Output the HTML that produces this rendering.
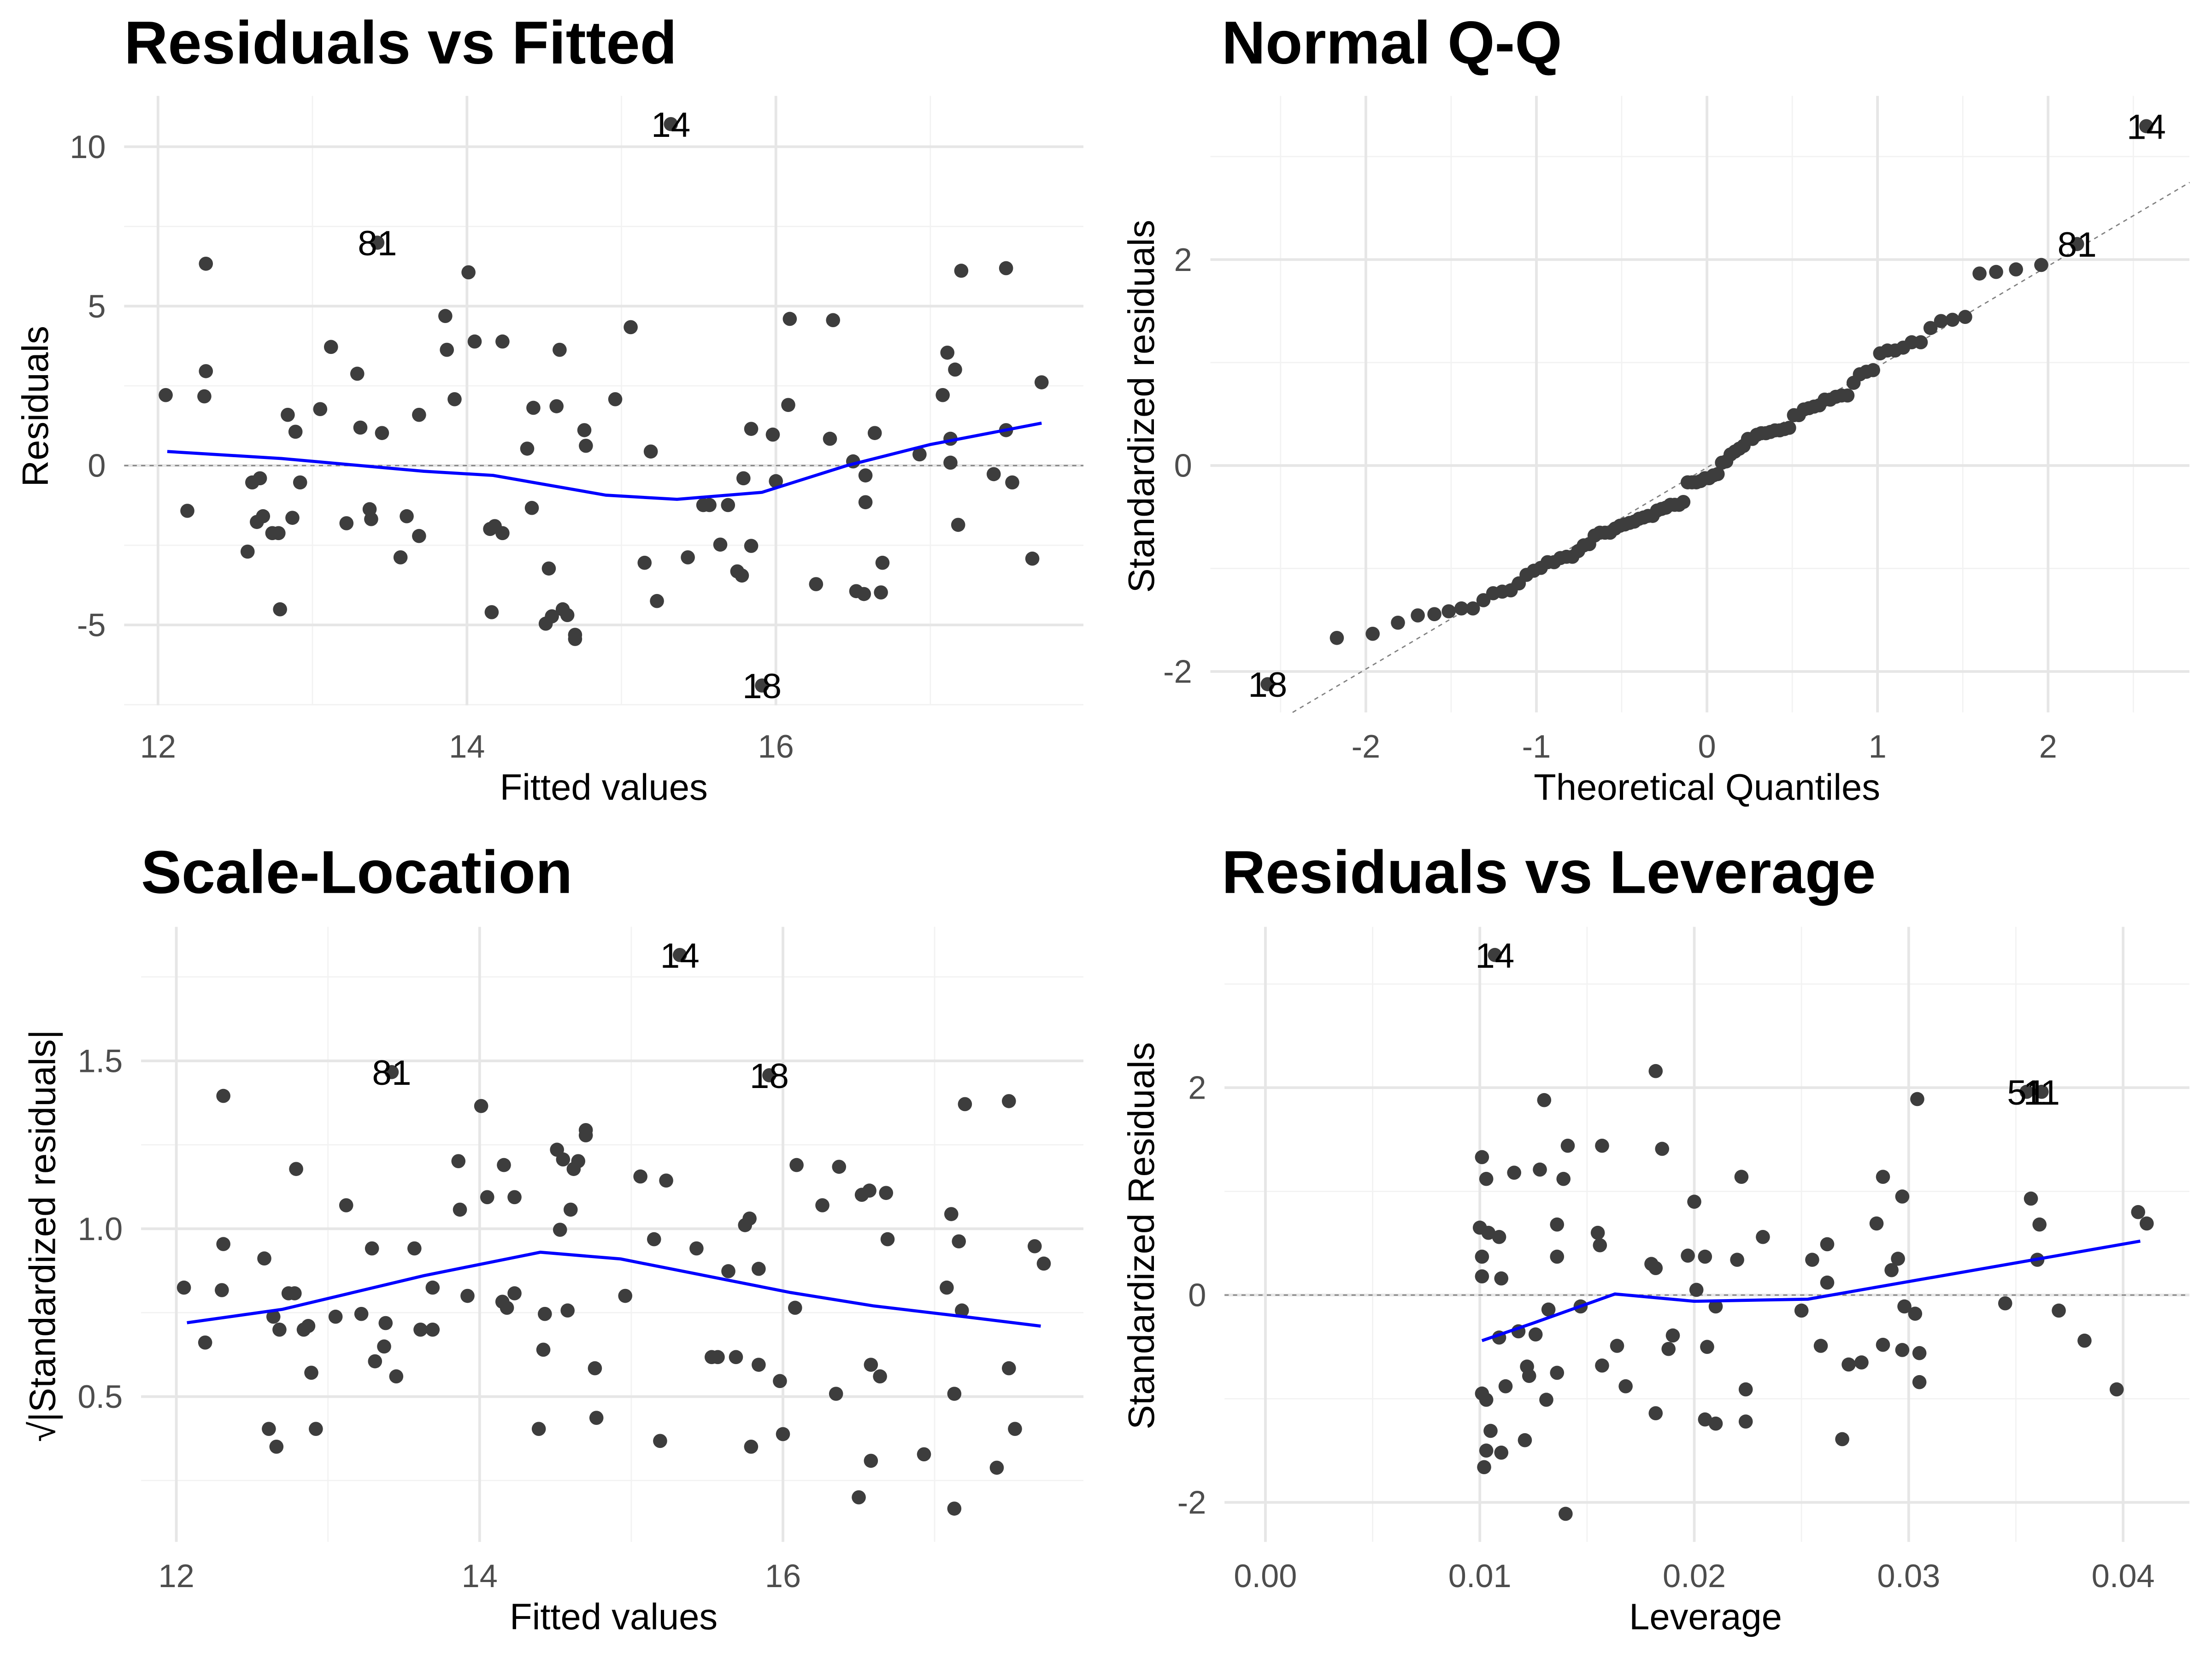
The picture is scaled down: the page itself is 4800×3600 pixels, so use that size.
<!DOCTYPE html>
<html><head><meta charset="utf-8"><style>
html,body{margin:0;padding:0;background:#fff;}
svg{display:block;font-family:"Liberation Sans",sans-serif;}
</style></head><body>
<svg id="c" width="4800" height="3600" viewBox="0 0 1568 1176" xmlns="http://www.w3.org/2000/svg"></svg>
<script>
// ---- data ----
const fitted = [12.05,12.19,12.30,12.31,12.31,12.58,12.61,12.64,12.66,12.68,12.74,12.78,12.79,12.84,12.87,12.89,12.92,13.05,13.12,13.22,13.29,13.31,13.37,13.38,13.42,13.45,13.57,13.61,13.69,13.69,13.86,13.87,13.92,14.01,14.05,14.15,14.16,14.18,14.23,14.23,14.39,14.42,14.43,14.51,14.53,14.55,14.58,14.60,14.62,14.65,14.70,14.70,14.76,14.77,14.96,15.06,15.15,15.19,15.23,15.32,15.43,15.53,15.57,15.64,15.69,15.75,15.78,15.79,15.84,15.84,15.91,15.98,16.00,16.08,16.09,16.26,16.37,16.35,16.50,16.52,16.57,16.58,16.58,16.64,16.69,16.68,16.93,17.08,17.11,17.13,17.13,17.16,17.18,17.20,17.41,17.49,17.49,17.53,17.66,17.72];
const residuals = [2.21,-1.42,2.17,2.96,6.33,-2.70,-0.53,-1.77,-0.40,-1.59,-2.12,-2.12,-4.51,1.59,-1.64,1.06,-0.53,1.77,3.72,-1.81,2.88,1.19,-1.37,-1.68,6.99,1.02,-2.88,-1.59,1.59,-2.21,4.69,3.63,2.08,6.06,3.89,-1.99,-4.60,-1.90,3.89,-2.12,0.53,-1.33,1.81,-4.96,-3.23,-4.73,1.86,3.63,-4.51,-4.69,-5.31,-5.44,1.11,0.62,2.08,4.34,-3.05,0.44,-4.25,10.71,-2.88,-1.24,-1.24,-2.48,-1.24,-3.32,-3.45,-0.40,1.15,-2.52,-6.90,0.97,-0.49,1.90,4.60,-3.72,4.56,0.84,0.13,-3.94,-4.03,-0.31,-1.15,1.02,-3.05,-3.98,0.35,2.21,3.54,0.84,0.09,3.01,-1.86,6.11,-0.27,6.19,1.11,-0.53,-2.92,2.61];
const topLabels = ['14','81','18'];
const sigma = 3.25;
const smooth1X = [12.06,12.80,13.72,14.17,14.90,15.36,15.91,16.46,17.00,17.72];
const smooth1Y = [0.44,0.22,-0.18,-0.31,-0.93,-1.06,-0.84,0.00,0.66,1.33];
const smooth3X = [12.07,12.70,13.63,14.40,14.93,15.49,16.05,16.60,17.16,17.70];
const smooth3Y = [0.72,0.76,0.86,0.93,0.91,0.86,0.81,0.77,0.74,0.71];
const leverage = [0.0107,0.0355,0.0362,0.0100,0.0101,0.0101,0.0101,0.0103,0.0104,0.0109,0.0110,0.0101,0.0103,0.0105,0.0102,0.0103,0.0109,0.0110,0.0112,0.0116,0.0118,0.0122,0.0123,0.0126,0.0121,0.0128,0.0130,0.0131,0.0132,0.0136,0.0136,0.0136,0.0139,0.0141,0.0140,0.0147,0.0155,0.0156,0.0157,0.0157,0.0164,0.0168,0.0180,0.0182,0.0182,0.0182,0.0185,0.0188,0.0190,0.0197,0.0200,0.0201,0.0205,0.0206,0.0205,0.0210,0.0210,0.0220,0.0222,0.0224,0.0224,0.0232,0.0250,0.0255,0.0259,0.0262,0.0262,0.0269,0.0272,0.0278,0.0285,0.0288,0.0288,0.0292,0.0295,0.0297,0.0297,0.0298,0.0303,0.0304,0.0305,0.0305,0.0345,0.0357,0.0360,0.0361,0.0370,0.0382,0.0397,0.0407,0.0411];
const levResid = [3.28,1.96,1.96,0.65,0.37,0.18,1.33,1.12,0.60,0.56,0.16,-0.95,-1.01,-1.31,-1.66,-1.50,-0.41,-1.52,-0.88,1.18,-0.35,-0.69,-0.78,-0.38,-1.40,1.21,1.88,-1.01,-0.14,0.68,0.37,-0.75,1.12,1.44,-2.11,-0.11,0.60,0.48,-0.68,1.44,-0.49,-0.88,0.30,2.16,-1.14,0.26,1.41,-0.52,-0.39,0.38,0.90,0.05,0.37,-0.50,-1.20,-0.11,-1.24,0.34,1.14,-0.91,-1.22,0.56,-0.15,0.34,-0.49,0.49,0.12,-1.39,-0.67,-0.65,0.69,1.14,-0.48,0.24,0.35,0.95,-0.53,-0.11,-0.18,1.89,-0.56,-0.84,-0.08,0.93,0.34,0.68,-0.15,-0.44,-0.91,0.80,0.69];
const levLabels = ['14','51','11'];
const smooth4X = [0.0101,0.0125,0.0163,0.0200,0.0253,0.0300,0.0350,0.0408];
const smooth4Y = [-0.44,-0.27,0.01,-0.06,-0.04,0.13,0.31,0.52];
const ticks1X=[12,14,16], ticks1Y=[-5,0,5,10];
const ticks2X=[-2,-1,0,1,2], ticks2Y=[-2,0,2];
const ticks3X=[12,14,16], ticks3Y=[0.5,1.0,1.5];
const ticks4X=[0,0.01,0.02,0.03,0.04], ticks4Y=[-2,0,2];

// ---- helpers ----
const NS='http://www.w3.org/2000/svg';
const svg=document.getElementById('c');
function mk(tag,attrs,parent){const e=document.createElementNS(NS,tag);for(const k in attrs)e.setAttribute(k,attrs[k]);(parent||svg).appendChild(e);return e;}
function lin(d0,d1,r0,r1){return v=>r0+(v-d0)*(r1-r0)/(d1-d0);}
function qnorm(p){const a=[-39.6968302866538,220.946098424521,-275.928510446969,138.357751867269,-30.6647980661472,2.50662827745924],b=[-54.4760987982241,161.585836858041,-155.698979859887,66.8013118877197,-13.2806815528857],c=[-0.00778489400243029,-0.322396458041136,-2.40075827716184,-2.54973253934373,4.37466414146497,2.93816398269878],d=[0.00778469570904146,0.32246712907004,2.445134137143,3.75440866190742];let q,r;if(p<0.02425){q=Math.sqrt(-2*Math.log(p));return(((((c[0]*q+c[1])*q+c[2])*q+c[3])*q+c[4])*q+c[5])/((((d[0]*q+d[1])*q+d[2])*q+d[3])*q+1);}if(p>1-0.02425){q=Math.sqrt(-2*Math.log(1-p));return-(((((c[0]*q+c[1])*q+c[2])*q+c[3])*q+c[4])*q+c[5])/((((d[0]*q+d[1])*q+d[2])*q+d[3])*q+1);}q=p-0.5;r=q*q;return(((((a[0]*r+a[1])*r+a[2])*r+a[3])*r+a[4])*r+a[5])*q/(((((b[0]*r+b[1])*r+b[2])*r+b[3])*r+b[4])*r+1);}
function fmt(v,dec){return (v<0?'-':'')+Math.abs(v).toFixed(dec);}

function panel(o){
  const g=mk('g',{});
  
  
  const {x0,x1,y0,y1,sx,sy}=o;
  o.minorX.forEach(v=>{const l=mk('line',{x1:sx(v),x2:sx(v),y1:y0,y2:y1,stroke:'#f2f2f2','stroke-width':0.9},g);});
  o.minorY.forEach(v=>{const l=mk('line',{x1:x0,x2:x1,y1:sy(v),y2:sy(v),stroke:'#f2f2f2','stroke-width':0.9},g);});
  o.tx.forEach(v=>{const l=mk('line',{x1:sx(v),x2:sx(v),y1:y0,y2:y1,stroke:'#e6e6e6','stroke-width':1.9},g);
    const t=mk('text',{x:sx(v),y:o.tickBase,'font-size':23,fill:'#4d4d4d','text-anchor':'middle'},g);t.textContent=fmt(v,o.dx);});
  o.ty.forEach(v=>{const l=mk('line',{x1:x0,x2:x1,y1:sy(v),y2:sy(v),stroke:'#e6e6e6','stroke-width':1.9},g);
    const t=mk('text',{x:x0-13,y:sy(v)+8,'font-size':23,fill:'#4d4d4d','text-anchor':'end'},g);t.textContent=fmt(v,o.dy);});
  if(o.zero){const l=mk('line',{x1:x0,x2:x1,y1:sy(0),y2:sy(0),stroke:'#808080','stroke-width':0.9,'stroke-dasharray':'3,3'},g);}
  if(o.ref){const l=mk('line',{x1:o.ref[0],y1:o.ref[1],x2:o.ref[2],y2:o.ref[3],stroke:'#808080','stroke-width':0.9,'stroke-dasharray':'3,3'},g);}
  o.px.forEach((v,i)=>{const c=mk('circle',{cx:sx(v),cy:sy(o.py[i]),r:5,fill:'#3d3d3d'},g);});
  if(o.smx){const p=mk('polyline',{points:o.smx.map((v,i)=>sx(v)+','+sy(o.smy[i])).join(' '),fill:'none',stroke:'#0000ff','stroke-width':2.2},g);}
  o.labels.forEach(L=>{const t=mk('text',{x:sx(L[0]),y:sy(L[1])+9,'font-size':25,fill:'#000','text-anchor':'middle'},g);t.textContent=L[2];});
  const ti=mk('text',{x:o.titleX,y:o.titleY,'font-size':43,'font-weight':'bold',fill:'#000'},g);ti.textContent=o.title;
  const xt=mk('text',{x:o.xlabX,y:o.xlabBase,'font-size':26,fill:'#000','text-anchor':'middle'},g);xt.textContent=o.xlab;
  const yc=o.ylabY;
  const yt=mk('text',{x:o.ylabX,y:yc,'font-size':26,fill:'#000','text-anchor':'middle',transform:`rotate(-90 ${o.ylabX} ${yc})`},g);yt.textContent=o.ylab;
}

const order=residuals.map((r,i)=>i).sort((a,b)=>Math.abs(residuals[b])-Math.abs(residuals[a])).slice(0,3);

// Panel 1
{const sx=lin(12,16,112,550),sy=lin(0,5,330,217);
panel({name:'residuals-vs-fitted-panel',x0:88,x1:768,y0:68,y1:500,sx,sy,tx:ticks1X,ty:ticks1Y,dx:0,dy:0,minorX:[13,15,17],minorY:[-7.5,-2.5,2.5,7.5],zero:true,px:fitted,py:residuals,smx:smooth1X,smy:smooth1Y,
labels:order.map((i,k)=>[fitted[i],residuals[i],topLabels[k]]),title:'Residuals vs Fitted',titleX:88,titleY:45,xlab:'Fitted values',xlabX:428,xlabBase:567,tickBase:537,ylab:'Residuals',ylabX:34,ylabY:288});}

// Panel 2
{const sx=lin(0,1,1210,1330.9),sy=lin(0,2,330,184);
const std=residuals.map(r=>r/sigma);const n=std.length;
const idx=std.map((v,i)=>i).sort((a,b)=>std[a]-std[b]);
const theo=[],samp=[],rank=[];idx.forEach((i,k)=>{theo.push(qnorm((k+0.5)/n));samp.push(std[i]);rank[i]=k;});
const q1=samp[Math.floor(n*0.25)],q3=samp[Math.floor(n*0.75)],t1=qnorm(0.25),t3=qnorm(0.75);
const slope=(q3-q1)/(t3-t1),icpt=q1-slope*t1;
// clip the reference line to the panel (x0..x1, y0..y1)
const yLo=sy.length?0:0;
const dataYmin=(330-505)/73,dataYmax=(330-68)/73;
let xa=-2.91,xb=2.83;
xa=Math.max(xa,(dataYmin-icpt)/slope); xb=Math.min(xb,(dataYmax-icpt)/slope);
panel({name:'normal-qq-panel',x0:858,x1:1552,y0:68,y1:505,sx,sy,tx:ticks2X,ty:ticks2Y,dx:0,dy:0,minorX:[-2.5,-1.5,-0.5,0.5,1.5,2.5],minorY:[-1,1,3],px:theo,py:samp,
ref:[sx(xa),sy(icpt+slope*xa),sx(xb),sy(icpt+slope*xb)],
labels:order.map((i,k)=>[theo[rank[i]],samp[rank[i]],topLabels[k]]),title:'Normal Q-Q',titleX:866,titleY:45,xlab:'Theoretical Quantiles',xlabX:1210,xlabBase:567,tickBase:537,ylab:'Standardized residuals',ylabX:818,ylabY:288});}

// Panel 3
{const sx=lin(12,16,125,555),sy=lin(0.5,1.0,990,871);
const sr=residuals.map(r=>Math.sqrt(Math.abs(r)/sigma));
panel({name:'scale-location-panel',x0:100,x1:768,y0:657,y1:1093,sx,sy,tx:ticks3X,ty:ticks3Y,dx:0,dy:1,minorX:[13,15,17],minorY:[0.25,0.75,1.25,1.75],px:fitted,py:sr,smx:smooth3X,smy:smooth3Y,
labels:order.map((i,k)=>[fitted[i],sr[i],topLabels[k]]),title:'Scale-Location',titleX:100,titleY:633,xlab:'Fitted values',xlabX:435,xlabBase:1155,tickBase:1125,ylab:'√|Standardized residuals|',ylabX:39,ylabY:876});}

// Panel 4
{const sx=lin(0,0.04,897,1505),sy=lin(0,2,918,771);
panel({name:'residuals-vs-leverage-panel',x0:868,x1:1552,y0:657,y1:1093,sx,sy,tx:ticks4X,ty:ticks4Y,dx:2,dy:0,minorX:[0.005,0.015,0.025,0.035],minorY:[-1,1,3],zero:true,px:leverage,py:levResid,smx:smooth4X,smy:smooth4Y,
labels:levLabels.map((s,k)=>[leverage[k],levResid[k],s]),title:'Residuals vs Leverage',titleX:866,titleY:633,xlab:'Leverage',xlabX:1209,xlabBase:1155,tickBase:1125,ylab:'Standardized Residuals',ylabX:818,ylabY:876});}
</script>
</body></html>
